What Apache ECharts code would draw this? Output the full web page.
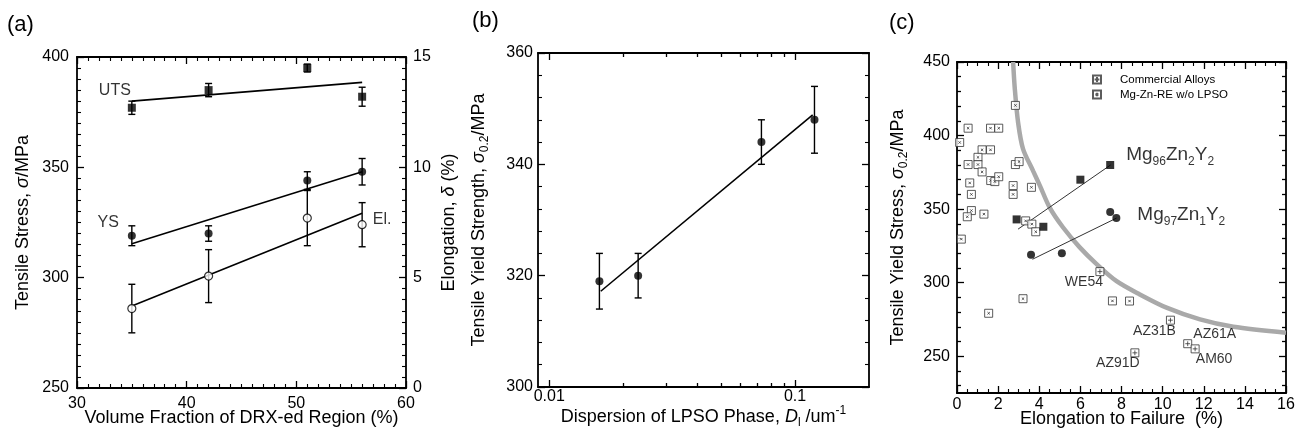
<!DOCTYPE html>
<html><head><meta charset="utf-8">
<script src="https://cdn.jsdelivr.net/npm/echarts@6/dist/echarts.min.js"></script>
<style>html,body{margin:0;padding:0;background:#fff}#c{width:1297px;height:436px}</style>
</head><body><div id="c"></div>
<script>
// ===== Panel (a) data =====
const aX = [35, 42, 51, 56];
const aUTS = [377, 385, 395, 382];
const aUTSErr = [3, 3, 1.8, 4.3];
const aYS = [319, 320, 344, 348];
const aYSErr = [4.5, 3.5, 4, 6];
const aEl = [3.6, 5.07, 7.7, 7.4];
const aElErr = [1.1, 1.2, 1.25, 1.0];
const aFitX = [35, 56];
const aUTSFit = [380, 388.5];
const aYSFit = [315.4, 348];
const aElFit = [3.72, 7.92];
const aXTicks = [30, 60, 10];      // min, max, interval
const aYTicks = [250, 400, 50];
const aY2Ticks = [0, 15, 5];

// ===== Panel (b) data =====
const bD = [0.016, 0.023, 0.073, 0.12];
const bYS = [319, 320, 344, 348];
const bErr = [5, 4, 4, 6];
const bFitD = [0.0162, 0.118];
const bFitYS = [317.2, 348.9];
const bRange = [0.009, 0.2];
const bMajor = [0.01, 0.1];
const bMinor = [0.02, 0.03, 0.04, 0.05, 0.06, 0.07, 0.08, 0.09];
const bYTicks = [300, 360, 20];

// ===== Panel (c) data =====
const cMg96 = [[2.9, 343], [4.2, 338], [6.0, 370], [7.45, 380]];
const cMg96Fit = [[2.97, 336.4], [7.47, 380]];
const cMg97 = [[3.6, 319], [5.1, 320], [7.45, 348], [7.75, 344]];
const cMg97Fit = [[3.67, 315.9], [7.76, 343.9]];
const cCommNames = ['WE54', 'AZ31B', 'AZ61A', 'AM60', 'AZ91D'];
const cCommEl = [6.95, 10.38, 11.22, 11.58, 8.65];
const cCommYS = [307.5, 274.5, 258.5, 255, 252.3];
const cNoLpso = [[2.84, 420.5], [0.54, 405], [1.63, 405], [2.03, 405], [0.13, 395.3], [1.22, 390.3],
  [1.63, 390.3], [1.02, 385.2], [0.54, 380.3], [1.02, 380.3], [2.84, 380.3], [3.02, 382.3],
  [1.22, 375.3], [1.64, 369.4], [1.84, 368.7], [2.03, 372], [0.62, 367.8], [2.73, 366],
  [3.62, 364.8], [0.70, 360], [2.73, 360], [0.70, 349], [0.5, 344.8], [1.31, 346.6],
  [3.34, 342], [3.64, 339.8], [3.83, 334.6], [0.21, 329.6], [3.21, 289.1], [1.54, 279.2],
  [7.56, 287.6], [8.39, 287.5]];
const cCurve = [[2.73, 450], [2.81, 432], [2.97, 409], [3.21, 391], [3.70, 376], [4.03, 366],
  [4.51, 351], [5.16, 337.5], [5.97, 324], [6.79, 312.6], [7.76, 301], [8.89, 292],
  [10.19, 283], [11.82, 275], [13.44, 270], [16, 266]];
const cXTicks = [0, 16, 2];
const cYRange = [225, 450];
const cYMajor = [250, 300, 350, 400, 450];
const cYMinor = [230, 240, 260, 270, 280, 290, 310, 320, 330, 340, 360, 370, 380, 390, 410, 420, 430, 440];

// ===== styling =====
const FONT = '"Liberation Sans", Arial, sans-serif';
const INK = '#000';
const commLabelOffset = { WE54: [-16, 11], AZ31B: [-16, 11], AZ61A: [27, -10], AM60: [19, 10], AZ91D: [-17, 10] };

function merge(a, b) {
  const o = Array.isArray(a) ? a.slice() : Object.assign({}, a);
  for (const k in b) {
    if (b[k] && typeof b[k] === 'object' && !Array.isArray(b[k]) && a[k] && typeof a[k] === 'object' && !Array.isArray(a[k])) o[k] = merge(a[k], b[k]);
    else o[k] = b[k];
  }
  return o;
}
const baseAxis = {
  type: 'value',
  axisLine: { show: true, onZero: false, lineStyle: { color: INK, width: 1.8 } },
  axisTick: { show: true, inside: true, length: 7, lineStyle: { color: INK, width: 1.3 } },
  minorTick: { show: false, length: 4, lineStyle: { color: INK, width: 1.1 } },
  axisLabel: { show: false, color: INK, fontSize: 16, fontFamily: FONT },
  splitLine: { show: false },
  minorSplitLine: { show: false },
  nameMoveOverlap: false,
  nameLocation: 'middle',
  nameTextStyle: { color: INK, fontSize: 18, fontFamily: FONT }
};
const ax = o => merge(baseAxis, o);
const L = Math.log10;
const subRich = {
  t: { fontSize: 18, fontFamily: FONT, color: INK, lineHeight: 24, verticalAlign: 'middle' },
  i: { fontSize: 18, fontFamily: FONT, color: INK, fontStyle: 'italic', lineHeight: 24, verticalAlign: 'middle' },
  s: { fontSize: 12, fontFamily: FONT, color: INK, lineHeight: 10, verticalAlign: 'bottom' },
  p: { fontSize: 12, fontFamily: FONT, color: INK, lineHeight: 10, verticalAlign: 'top' }
};
const plainRich = { t: { fontSize: 18, fontFamily: FONT, color: INK }, i: { fontSize: 18, fontFamily: FONT, color: INK, fontStyle: 'italic' } };

const xAxis = [
  ax({ gridIndex: 0, position: 'bottom', min: aXTicks[0], max: aXTicks[1], interval: aXTicks[2],
    minorTick: { show: true, splitNumber: 10 }, axisLabel: { show: true, margin: 8 },
    name: 'Volume Fraction of DRX-ed Region (%)', nameGap: 21 }),
  ax({ gridIndex: 0, position: 'top', min: aXTicks[0], max: aXTicks[1], interval: aXTicks[2],
    minorTick: { show: true, splitNumber: 10 } }),
  ax({ gridIndex: 1, position: 'bottom', min: L(bRange[0]), max: L(bRange[1]),
    axisTick: { customValues: bMajor.map(L) },
    axisLabel: { show: true, margin: 2, customValues: bMajor.map(L), formatter: v => String(Number(Math.pow(10, v).toPrecision(1))) },
    name: '{t|Dispersion of LPSO Phase, }{i|D}{s|l}{t| /um}{p|-1}', nameGap: 18, nameTextStyle: { rich: subRich } }),
  ax({ gridIndex: 1, position: 'bottom', min: L(bRange[0]), max: L(bRange[1]), axisLine: { show: false },
    axisTick: { length: 4, customValues: bMinor.map(L) } }),
  ax({ gridIndex: 1, position: 'top', min: L(bRange[0]), max: L(bRange[1]),
    axisTick: { customValues: bMajor.map(L) } }),
  ax({ gridIndex: 1, position: 'top', min: L(bRange[0]), max: L(bRange[1]), axisLine: { show: false },
    axisTick: { length: 4, customValues: bMinor.map(L) } }),
  ax({ gridIndex: 2, position: 'bottom', min: cXTicks[0], max: cXTicks[1], interval: cXTicks[2],
    minorTick: { show: true, splitNumber: 4 }, axisLabel: { show: true, margin: 4 },
    name: 'Elongation to Failure  (%)', nameGap: 17 }),
  ax({ gridIndex: 2, position: 'top', min: cXTicks[0], max: cXTicks[1], interval: cXTicks[2],
    minorTick: { show: true, splitNumber: 4 } })
];
const yAxis = [
  ax({ gridIndex: 0, position: 'left', min: aYTicks[0], max: aYTicks[1], interval: aYTicks[2],
    minorTick: { show: true, splitNumber: 10 }, axisLabel: { show: true, margin: 8 },
    name: '{t|Tensile Stress, }{i|σ}{t|/MPa}', nameGap: 45, nameRotate: 90, nameTextStyle: { rich: plainRich } }),
  ax({ gridIndex: 0, position: 'right', min: aY2Ticks[0], max: aY2Ticks[1], interval: aY2Ticks[2],
    minorTick: { show: true, splitNumber: 10 }, axisLabel: { show: true, margin: 7 },
    name: '{t|Elongation, }{i|δ}{t| (%)}', nameGap: 34, nameRotate: 90, nameTextStyle: { rich: plainRich } }),
  ax({ gridIndex: 1, position: 'left', min: bYTicks[0], max: bYTicks[1], interval: bYTicks[2],
    minorTick: { show: true, splitNumber: 5 }, axisLabel: { show: true, margin: 5 },
    name: '{t|Tensile Yield Strength, }{i|σ}{s|0.2}{t|/MPa}', nameGap: 47, nameRotate: 90, nameTextStyle: { rich: subRich } }),
  ax({ gridIndex: 1, position: 'right', min: bYTicks[0], max: bYTicks[1], interval: bYTicks[2],
    minorTick: { show: true, splitNumber: 5 } }),
  ax({ gridIndex: 2, position: 'left', min: cYRange[0], max: cYRange[1],
    axisTick: { customValues: cYMajor }, axisLabel: { show: true, margin: 7, customValues: cYMajor },
    name: '{t|Tensile Yield Stress, }{i|σ}{s|0.2}{t|/MPa}', nameGap: 47, nameRotate: 90, nameTextStyle: { rich: subRich } }),
  ax({ gridIndex: 2, position: 'right', min: cYRange[0], max: cYRange[1], axisTick: { customValues: cYMajor } }),
  ax({ gridIndex: 2, position: 'left', min: cYRange[0], max: cYRange[1], axisLine: { show: false },
    axisTick: { length: 4, customValues: cYMinor } }),
  ax({ gridIndex: 2, position: 'right', min: cYRange[0], max: cYRange[1], axisLine: { show: false },
    axisTick: { length: 4, customValues: cYMinor } })
];

function errRender(params, api) {
  const x = api.value(0), y = api.value(1), e = api.value(2);
  const t = api.coord([x, y + e]), b = api.coord([x, y - e]);
  const cap = 3.5, st = { stroke: INK, lineWidth: 1.4 };
  return { type: 'group', children: [
    { type: 'line', shape: { x1: t[0], y1: t[1], x2: b[0], y2: b[1] }, style: st },
    { type: 'line', shape: { x1: t[0] - cap, y1: t[1], x2: t[0] + cap, y2: t[1] }, style: st },
    { type: 'line', shape: { x1: b[0] - cap, y1: b[1], x2: b[0] + cap, y2: b[1] }, style: st }
  ] };
}
const lab = (o) => Object.assign({ show: true, color: INK, fontSize: 16, fontFamily: FONT }, o);
const fit = (xi, yi, data, color, width) => ({ type: 'line', xAxisIndex: xi, yAxisIndex: yi, data, symbol: 'none',
  lineStyle: { color, width }, z: 3, silent: true });
const errS = (xi, yi, data) => ({ type: 'custom', xAxisIndex: xi, yAxisIndex: yi, renderItem: errRender, data, z: 2, silent: true });

const SYM_COMM = 'path://M0 0H10V10H0Z M5 2V8 M2 5H8';
const SYM_NOL = 'path://M0 0H10V10H0Z M3.5 3.5L6.5 6.5 M6.5 3.5L3.5 6.5';
const mgRich = {
  m: { fontSize: 19, fontFamily: FONT, color: INK, lineHeight: 26, verticalAlign: 'middle' },
  s: { fontSize: 12, fontFamily: FONT, color: INK, lineHeight: 10, verticalAlign: 'bottom' }
};

const series = [
  // (a)
  errS(0, 0, aX.map((x, i) => [x, aUTS[i], aUTSErr[i]])),
  errS(0, 0, aX.map((x, i) => [x, aYS[i], aYSErr[i]])),
  errS(0, 1, aX.map((x, i) => [x, aEl[i], aElErr[i]])),
  fit(0, 0, aFitX.map((x, i) => [x, aUTSFit[i]]), INK, 1.6),
  fit(0, 0, aFitX.map((x, i) => [x, aYSFit[i]]), INK, 1.6),
  fit(0, 1, aFitX.map((x, i) => [x, aElFit[i]]), INK, 1.6),
  { type: 'scatter', name: 'UTS', xAxisIndex: 0, yAxisIndex: 0, symbol: 'rect', symbolSize: 8, z: 4,
    itemStyle: { color: INK }, data: aX.map((x, i) => [x, aUTS[i]]),
    label: lab({ position: 'left', distance: 0, offset: [3, -17], formatter: p => p.dataIndex === 0 ? 'UTS' : '' }) },
  { type: 'scatter', name: 'YS', xAxisIndex: 0, yAxisIndex: 0, symbol: 'circle', symbolSize: 8, z: 4,
    itemStyle: { color: INK }, data: aX.map((x, i) => [x, aYS[i]]),
    label: lab({ position: 'left', distance: 9, offset: [0, -13], formatter: p => p.dataIndex === 0 ? 'YS' : '' }) },
  { type: 'scatter', name: 'El.', xAxisIndex: 0, yAxisIndex: 1, symbol: 'circle', symbolSize: 8, z: 4,
    itemStyle: { color: '#fff', borderColor: INK, borderWidth: 1.2 }, data: aX.map((x, i) => [x, aEl[i]]),
    label: lab({ position: 'right', distance: 6, offset: [0, -5], formatter: p => p.dataIndex === aX.length - 1 ? 'El.' : '' }) },
  // (b)
  errS(2, 2, bD.map((d, i) => [L(d), bYS[i], bErr[i]])),
  fit(2, 2, bFitD.map((d, i) => [L(d), bFitYS[i]]), INK, 1.6),
  { type: 'scatter', xAxisIndex: 2, yAxisIndex: 2, symbol: 'circle', symbolSize: 8, z: 4,
    itemStyle: { color: INK }, data: bD.map((d, i) => [L(d), bYS[i]]) },
  // (c)
  { type: 'line', xAxisIndex: 6, yAxisIndex: 4, data: cCurve, smooth: 0.3, symbol: 'none', z: 2, silent: true,
    lineStyle: { color: '#a9a9a9', width: 4.5 } },
  fit(6, 4, cMg96Fit, '#333', 1),
  fit(6, 4, cMg97Fit, '#333', 1),
  { type: 'scatter', name: 'Mg-Zn-RE w/o LPSO', xAxisIndex: 6, yAxisIndex: 4, symbol: SYM_NOL, symbolSize: 8, z: 4,
    itemStyle: { color: '#fff', borderColor: '#333', borderWidth: 1 }, data: cNoLpso },
  { type: 'scatter', name: 'Commercial Alloys', xAxisIndex: 6, yAxisIndex: 4, symbol: SYM_COMM, symbolSize: 8, z: 4,
    itemStyle: { color: '#fff', borderColor: '#333', borderWidth: 1 },
    data: cCommNames.map((n, i) => ({ name: n, value: [cCommEl[i], cCommYS[i]] })),
    label: lab({ fontSize: 14, position: 'inside', formatter: p => p.name }),
    labelLayout: p => ({ dx: commLabelOffset[cCommNames[p.dataIndex]][0], dy: commLabelOffset[cCommNames[p.dataIndex]][1] }) },
  { type: 'scatter', xAxisIndex: 6, yAxisIndex: 4, symbol: 'rect', symbolSize: 8, z: 5,
    itemStyle: { color: INK }, data: cMg96,
    label: { show: true, position: 'right', distance: 12, offset: [0, -10], rich: mgRich,
      formatter: p => p.dataIndex === cMg96.length - 1 ? '{m|Mg}{s|96}{m|Zn}{s|2}{m|Y}{s|2}' : '' } },
  { type: 'scatter', xAxisIndex: 6, yAxisIndex: 4, symbol: 'circle', symbolSize: 8, z: 5,
    itemStyle: { color: INK }, data: cMg97,
    label: { show: true, position: 'right', distance: 17, offset: [0, -3], rich: mgRich,
      formatter: p => p.dataIndex === cMg97.length - 1 ? '{m|Mg}{s|97}{m|Zn}{s|1}{m|Y}{s|2}' : '' } }
];

const chart = echarts.init(document.getElementById('c'), null, { renderer: 'canvas' });
chart.setOption({
  animation: false,
  backgroundColor: '#fff',
  textStyle: { fontFamily: FONT, color: INK },
  grid: [
    { left: 77, top: 57, width: 329, height: 331, outerBoundsMode: 'none' },
    { left: 538, top: 53, width: 331, height: 334, outerBoundsMode: 'none' },
    { left: 957, top: 62, width: 329, height: 331, outerBoundsMode: 'none' }
  ],
  xAxis, yAxis, series,
  legend: {
    data: ['Commercial Alloys', 'Mg-Zn-RE w/o LPSO'], orient: 'vertical', left: 1092, top: 73, padding: 0,
    itemWidth: 8, itemHeight: 8, itemGap: 2, selectedMode: false,
    textStyle: { fontSize: 11.5, fontFamily: FONT, color: INK, padding: [0, 0, 0, 14], lineHeight: 13 }
  },
  graphic: [
    { type: 'text', left: 7, top: 14, style: { text: '(a)', font: '22px "Liberation Sans", Arial', fill: INK } },
    { type: 'text', left: 472, top: 10, style: { text: '(b)', font: '22px "Liberation Sans", Arial', fill: INK } },
    { type: 'text', left: 889, top: 12, style: { text: '(c)', font: '22px "Liberation Sans", Arial', fill: INK } }
  ]
});
</script>
</body></html>
